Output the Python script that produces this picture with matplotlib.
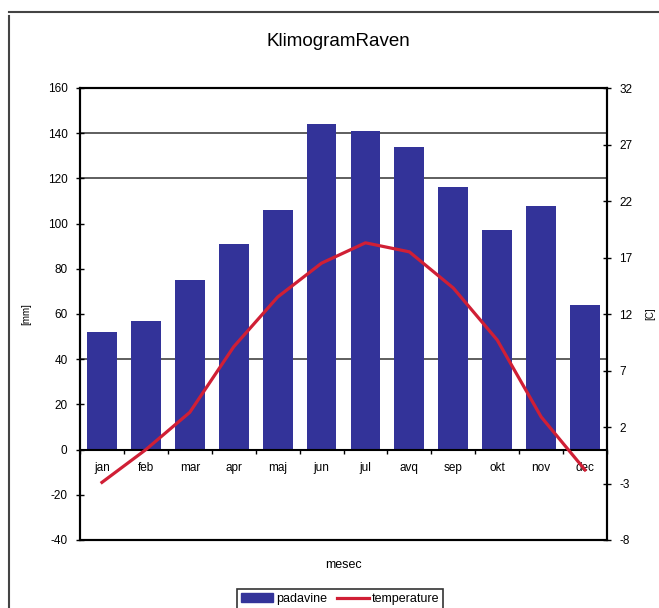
import matplotlib.pyplot as plt
import numpy as np
from matplotlib.lines import Line2D
from matplotlib.patches import Patch

months = ['jan', 'feb', 'mar', 'apr', 'maj', 'jun', 'jul', 'avq', 'sep', 'okt', 'nov', 'dec']
padavine = [52, 57, 75, 91, 106, 144, 141, 134, 116, 97, 108, 64]
temperature = [-2.9, 0.0, 3.3, 9.1, 13.5, 16.5, 18.3, 17.5, 14.3, 9.7, 2.9, -1.8]
left_ticks = [-40, -20, 0, 20, 40, 60, 80, 100, 120, 140, 160]
right_ticks = [-8, -3, 2, 7, 12, 17, 22, 27, 32]
grid_levels = [40, 120, 140]

BAR_COLOR = '#333399'
LINE_COLOR = '#d01f35'

plt.rcParams['font.family'] = ['Liberation Sans', 'DejaVu Sans']
plt.rcParams['axes.unicode_minus'] = False

fig = plt.figure(figsize=(6.59, 6.08), dpi=100)
ax = fig.add_axes([80 / 659, 1 - 540 / 608, 527 / 659, 452 / 608])

x = np.arange(len(months))
ax.bar(x, padavine, width=0.68, color=BAR_COLOR, zorder=2)
for level in grid_levels:
    ax.axhline(level, color='#333333', lw=1.1, zorder=1)

ax.set_xlim(-0.5, len(months) - 0.5)
ax.set_ylim(-40, 160)
ax.set_yticks(left_ticks)
ax.tick_params(axis='y', direction='inout', length=6, width=1, labelsize=8.5, pad=6)

# x axis sits on the zero line, with a frame line at the bottom
ax.spines['bottom'].set_position(('data', 0))
ax.axhline(-40, color='black', lw=1.5, clip_on=False, zorder=3)
ax.set_xticks(np.arange(len(months) + 1) - 0.5)
ax.set_xticklabels([])
ax.set_xticks(x, minor=True)
ax.set_xticklabels(months, minor=True)
ax.tick_params(axis='x', which='major', direction='out', length=3, width=1)
ax.tick_params(axis='x', which='minor', length=0, labelsize=8.5, pad=9)
for s in ax.spines.values():
    s.set_linewidth(1.5)

ax.set_ylabel('[mm]', fontsize=7, labelpad=12)
ax.text(0.5, -0.055, 'mesec', transform=ax.transAxes, ha='center', va='center', fontsize=9)

ax2 = ax.twinx()
ax2.plot(x, temperature, color=LINE_COLOR, lw=2.3, zorder=4)
ax2.set_ylim(-8, 32)
ax2.set_yticks(right_ticks)
ax2.tick_params(axis='y', direction='inout', length=6, width=1, labelsize=8.5, pad=6)
ax2.set_ylabel('[C]', fontsize=7, labelpad=9)
for s in ax2.spines.values():
    s.set_linewidth(1.5)

fig.text(338 / 659, 1 - 42 / 608, 'KlimogramRaven', ha='center', va='center', fontsize=13.5)

handles = [Patch(facecolor=BAR_COLOR, edgecolor=BAR_COLOR),
           Line2D([0], [0], color=LINE_COLOR, lw=2.3)]
leg = fig.legend(handles, ['padavine', 'temperature'], loc='upper center',
                 bbox_to_anchor=(340 / 659, 1 - 583 / 608), ncol=2, fontsize=9,
                 frameon=True, fancybox=False, edgecolor='black', handlelength=2.6,
                 handletextpad=0.2, columnspacing=0.8, borderpad=0.3)
leg.get_frame().set_linewidth(1.2)

# outer frame edges visible at the top and left of the picture
fig.add_artist(Line2D([9 / 659, 1], [1 - 12 / 608, 1 - 12 / 608], color='#444444', lw=1.5))
fig.add_artist(Line2D([9 / 659, 9 / 659], [0, 1 - 16 / 608], color='#444444', lw=1.5))

fig.savefig('out.png', dpi=100)
